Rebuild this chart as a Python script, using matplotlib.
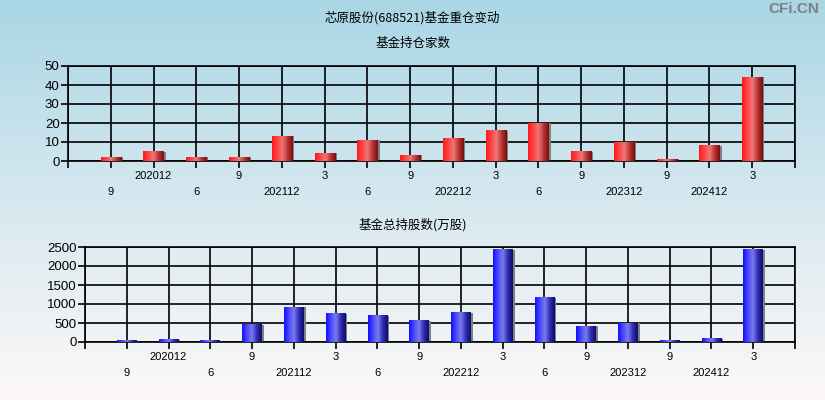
import numpy as np
import matplotlib
matplotlib.use("Agg")
import matplotlib.pyplot as plt
from matplotlib.colors import LinearSegmentedColormap

plt.rcParams["font.family"] = ["Liberation Sans", "Noto Sans CJK SC", "DejaVu Sans"]

# report periods (yyyymm)
periods = ["202009", "202012", "202106", "202109", "202112", "202203",
           "202206", "202209", "202212", "202303", "202306", "202309",
           "202312", "202409", "202412", "202503"]

# number of funds holding
fund_counts = [2, 5, 2, 2, 13, 4, 11, 3, 12, 16, 20, 5, 10, 1, 8, 44]

# total shares held by funds (10k shares)
fund_shares = [30, 55, 30, 450, 920, 740, 685, 555, 765, 2430, 1160, 420,
               495, 30, 80, 2430]

TITLE = "芯原股份(688521)基金重仓变动"
SUB1 = "基金持仓家数"
SUB2 = "基金总持股数(万股)"

CJK = ["Noto Sans CJK SC", "DejaVu Sans"]

red_cmap = LinearSegmentedColormap.from_list(
    "red", ["#ff1a1a", "#ff4444", "#ee7878", "#b83434", "#7a0e0e"])
blue_cmap = LinearSegmentedColormap.from_list(
    "blue", ["#1010ff", "#4a4aff", "#7a7af0", "#2e2eb0", "#0c0c70"])


def tick_label(p):
    if p.endswith("12"):
        return p
    return str(int(p[4:]))


def draw_bars(ax, values, cmap, ymax, ystep):
    n = len(values)
    xs = np.arange(1, n + 1)
    w = 0.47
    grad = np.linspace(0, 1, 64).reshape(1, -1)
    for x, v in zip(xs, values):
        # grey shadow on right side
        ax.bar(x + w / 2 + 0.025, v, width=0.05, color="#808080",
               zorder=2, linewidth=0)
        ax.imshow(grad, cmap=cmap, aspect="auto",
                  extent=(x - w / 2, x + w / 2, 0, v), zorder=3,
                  interpolation="bilinear")

    ax.set_xlim(0, n + 1)
    ax.set_ylim(0, ymax)
    ax.set_facecolor("none")
    ax.set_xticks(np.arange(0, n + 2))
    ax.set_xticklabels([])
    ax.set_yticks(np.arange(0, ymax + 1, ystep))
    ax.tick_params(axis="y", labelsize=9.5, length=5, width=1.2, pad=1)
    ax.tick_params(axis="x", length=5, width=1.2)
    ax.grid(True, color="black", linewidth=1.2, zorder=1)
    ax.set_axisbelow(True)
    for s in ax.spines.values():
        s.set_linewidth(1.2)

    # two-row period labels
    trans = ax.get_xaxis_transform()
    for i, p in enumerate(periods):
        yoff = -0.33 if i % 2 == 0 else -0.155
        ax.text(xs[i], yoff, tick_label(p), ha="center", va="center",
                fontsize=8, transform=trans)


fig = plt.figure(figsize=(8.25, 4), dpi=100)

# background gradient
bg = fig.add_axes([0, 0, 1, 1], zorder=-10)
bg_cmap = LinearSegmentedColormap.from_list(
    "bg", ["#a9d6e5", "#d6e8ef", "#fdf8f8"])
bg.imshow(np.linspace(0, 1, 256).reshape(-1, 1), cmap=bg_cmap,
          aspect="auto", extent=(0, 1, 0, 1))
bg.set_xlim(0, 1)
bg.set_ylim(0, 1)
bg.axis("off")

ax1 = fig.add_axes([0.0824, 0.5975, 0.8812, 0.2375])
draw_bars(ax1, fund_counts, red_cmap, 50, 10)

ax2 = fig.add_axes([0.103, 0.145, 0.8606, 0.2375])
draw_bars(ax2, fund_shares, blue_cmap, 2500, 500)

fig.text(0.5, 0.955, TITLE, ha="center", va="center", fontsize=9, family=CJK)
fig.text(0.5, 0.892, SUB1, ha="center", va="center", fontsize=9, family=CJK)
fig.text(0.5, 0.438, SUB2, ha="center", va="center", fontsize=9, family=CJK)
fig.text(0.993, 0.978, "CFi.CN", ha="right", va="center", fontsize=11,
         color="#808080", fontweight="bold")

fig.savefig("out.png", dpi=100)
